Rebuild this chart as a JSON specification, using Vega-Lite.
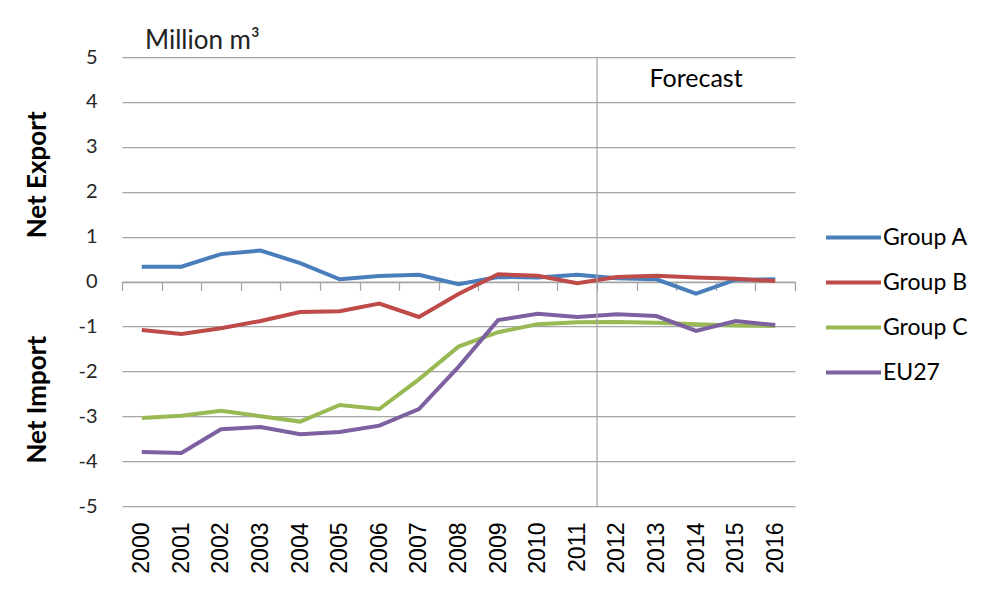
{
"$schema": "https://vega.github.io/schema/vega-lite/v6.json",
"width": 673, "height": 449,
"autosize": {"type": "none"},
"padding": {"left": 122, "top": 57, "right": 193, "bottom": 89},
"background": "white",
"config": {"view": {"stroke": null}, "font": "Lato"},
"title": {"text": "Million m³", "anchor": "start", "frame": "group", "dx": 23, "offset": -28, "baseline": "alphabetic", "fontSize": 26, "fontWeight": "normal", "font": "Lato", "color": "#222"},
"data": {"values": [
{"year":2000,"series":"Group A","value":0.33},{"year":2001,"series":"Group A","value":0.33},{"year":2002,"series":"Group A","value":0.61},{"year":2003,"series":"Group A","value":0.69},{"year":2004,"series":"Group A","value":0.41},{"year":2005,"series":"Group A","value":0.05},{"year":2006,"series":"Group A","value":0.12},{"year":2007,"series":"Group A","value":0.15},{"year":2008,"series":"Group A","value":-0.06},{"year":2009,"series":"Group A","value":0.1},{"year":2010,"series":"Group A","value":0.09},{"year":2011,"series":"Group A","value":0.15},{"year":2012,"series":"Group A","value":0.07},{"year":2013,"series":"Group A","value":0.05},{"year":2014,"series":"Group A","value":-0.27},{"year":2015,"series":"Group A","value":0.04},{"year":2016,"series":"Group A","value":0.05},
{"year":2000,"series":"Group B","value":-1.08},{"year":2001,"series":"Group B","value":-1.17},{"year":2002,"series":"Group B","value":-1.04},{"year":2003,"series":"Group B","value":-0.88},{"year":2004,"series":"Group B","value":-0.68},{"year":2005,"series":"Group B","value":-0.66},{"year":2006,"series":"Group B","value":-0.49},{"year":2007,"series":"Group B","value":-0.79},{"year":2008,"series":"Group B","value":-0.28},{"year":2009,"series":"Group B","value":0.16},{"year":2010,"series":"Group B","value":0.13},{"year":2011,"series":"Group B","value":-0.04},{"year":2012,"series":"Group B","value":0.1},{"year":2013,"series":"Group B","value":0.13},{"year":2014,"series":"Group B","value":0.09},{"year":2015,"series":"Group B","value":0.06},{"year":2016,"series":"Group B","value":0.01},
{"year":2000,"series":"Group C","value":-3.04},{"year":2001,"series":"Group C","value":-2.99},{"year":2002,"series":"Group C","value":-2.88},{"year":2003,"series":"Group C","value":-3.0},{"year":2004,"series":"Group C","value":-3.12},{"year":2005,"series":"Group C","value":-2.75},{"year":2006,"series":"Group C","value":-2.84},{"year":2007,"series":"Group C","value":-2.18},{"year":2008,"series":"Group C","value":-1.45},{"year":2009,"series":"Group C","value":-1.13},{"year":2010,"series":"Group C","value":-0.95},{"year":2011,"series":"Group C","value":-0.91},{"year":2012,"series":"Group C","value":-0.9},{"year":2013,"series":"Group C","value":-0.92},{"year":2014,"series":"Group C","value":-0.95},{"year":2015,"series":"Group C","value":-0.98},{"year":2016,"series":"Group C","value":-0.99},
{"year":2000,"series":"EU27","value":-3.8},{"year":2001,"series":"EU27","value":-3.82},{"year":2002,"series":"EU27","value":-3.29},{"year":2003,"series":"EU27","value":-3.24},{"year":2004,"series":"EU27","value":-3.4},{"year":2005,"series":"EU27","value":-3.35},{"year":2006,"series":"EU27","value":-3.21},{"year":2007,"series":"EU27","value":-2.84},{"year":2008,"series":"EU27","value":-1.9},{"year":2009,"series":"EU27","value":-0.86},{"year":2010,"series":"EU27","value":-0.72},{"year":2011,"series":"EU27","value":-0.79},{"year":2012,"series":"EU27","value":-0.73},{"year":2013,"series":"EU27","value":-0.77},{"year":2014,"series":"EU27","value":-1.1},{"year":2015,"series":"EU27","value":-0.88},{"year":2016,"series":"EU27","value":-0.97}
]},
"layer": [
{"mark": {"type": "line", "strokeWidth": 4},
 "encoding": {
  "x": {"field": "year", "type": "quantitative", "scale": {"domain": [1999.5, 2016.5], "nice": false, "zero": false},
        "axis": {"orient": "bottom", "values": [2000,2001,2002,2003,2004,2005,2006,2007,2008,2009,2010,2011,2012,2013,2014,2015,2016], "format": "d", "labelAngle": -90, "labelFont": "Liberation Sans", "labelFontSize": 23, "labelColor": "#000", "labelPadding": 16, "ticks": false, "tickSize": 0, "domain": false, "grid": false, "title": null, "labelFlush": false, "labelOverlap": false}},
  "y": {"field": "value", "type": "quantitative", "scale": {"domain": [-5, 5], "nice": false},
        "axis": {"values": [-5,-4,-3,-2,-1,0,1,2,3,4,5], "labelExpr": "'' + datum.value", "grid": true, "gridColor": "#a5a5a5", "gridWidth": 1.25, "domain": false, "ticks": false, "tickSize": 0, "labelFont": "Lato", "labelFontSize": 20, "labelColor": "#262626", "labelPadding": 25, "title": "Net Import\u2003\u2003\u2003\u2003\u2003Net Export", "titleFont": "Lato", "titleFontSize": 26, "titleFontWeight": "bold", "titleColor": "#000", "titlePadding": 27, "titleY": 230}},
  "color": {"field": "series", "type": "nominal", "scale": {"domain": ["Group A", "Group B", "Group C", "EU27"], "range": ["#4a7ebb", "#be4b48", "#98b954", "#7d60a0"]},
        "legend": {"title": null, "orient": "none", "legendX": 702, "legendY": 151, "symbolType": "stroke", "symbolSize": 3025, "symbolStrokeWidth": 4, "labelFont": "Lato", "labelFontSize": 23, "labelColor": "#000", "rowPadding": 3, "labelOffset": 0, "padding": 0}}
 }},
{"data": {"values": [{}]},
 "mark": {"type": "rule", "color": "#a5a5a5", "strokeWidth": 1.25},
 "encoding": {
  "x": {"datum": 2011.5, "type": "quantitative",
        "axis": {"orient": "bottom", "offset": -224.5, "values": [1999.5,2000.5,2001.5,2002.5,2003.5,2004.5,2005.5,2006.5,2007.5,2008.5,2009.5,2010.5,2011.5,2012.5,2013.5,2014.5,2015.5,2016.5], "labels": false, "grid": false, "domain": true, "domainColor": "#a5a5a5", "domainWidth": 1.25, "ticks": true, "tickColor": "#a5a5a5", "tickWidth": 1.25, "tickSize": 9, "title": null}}
 }},
{"data": {"values": [{}]},
 "mark": {"type": "text", "text": "Forecast", "font": "Lato", "fontSize": 25, "color": "#000", "baseline": "middle", "align": "center"},
 "encoding": {
  "x": {"datum": 2014, "type": "quantitative", "axis": null},
  "y": {"datum": 4.5, "type": "quantitative"}
 }}
],
"resolve": {"axis": {"x": "independent"}}
}
